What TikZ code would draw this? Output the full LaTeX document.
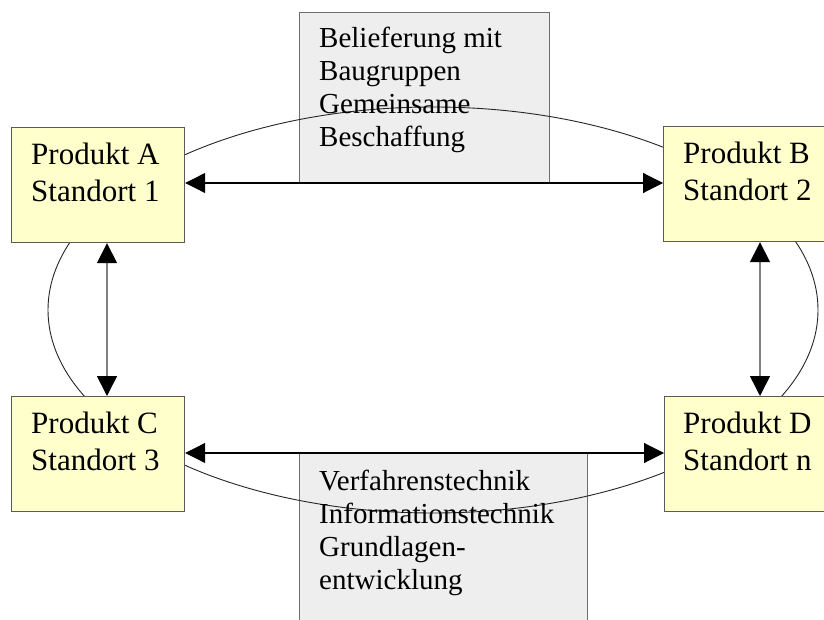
\documentclass[tikz,border=0pt]{standalone}
\usepackage{fontspec}
\setmainfont{Liberation Serif}
\usetikzlibrary{arrows.meta}
\definecolor{prodfill}{HTML}{FFFFCC}
\definecolor{boxline}{HTML}{5A5A5A}
\definecolor{notefill}{HTML}{EEEEEE}
\definecolor{noteline}{HTML}{6E6E6E}
\definecolor{vline}{HTML}{808080}
\begin{document}
\begin{tikzpicture}[x=1pt,y=-1pt,
  prod/.style={draw=boxline, line width=1.2pt, fill=prodfill, minimum width=173pt, minimum height=115pt, inner sep=0pt, anchor=north west},
  note/.style={draw=noteline, line width=1.2pt, fill=notefill, inner sep=0pt, anchor=north west},
  ptext/.style={anchor=base west, inner sep=0pt, font=\fontsize{31}{37}\selectfont},
  ntext/.style={anchor=base west, inner sep=0pt, font=\fontsize{29}{33}\selectfont},
  ring/.style={draw=black!85, line width=0.9pt},
  harrow/.style={draw=black, line width=1.1pt, {Triangle[length=20pt,width=20pt,color=black]}-{Triangle[length=20pt,width=20pt,color=black]}},
  varrow/.style={draw=vline, line width=1.6pt, {Triangle[length=20pt,width=20pt,color=black]}-{Triangle[length=20pt,width=20pt,color=black]}}
]
\useasboundingbox (0,0) rectangle (824,620);
\clip (0,0) rectangle (824,620);
\fill[white] (0,0) rectangle (824,620);

% grey note boxes
\node[note, minimum width=250pt, minimum height=171pt] (T) at (299,12) {};
\node[note, minimum width=288pt, minimum height=190pt] (U) at (299,453) {};

% ring behind the product boxes
\draw[ring] (433,310) ellipse [x radius=385pt, y radius=203pt];

% product boxes
\node[prod] (A) at (11,127) {};
\node[prod] (B) at (663,126) {};
\node[prod] (C) at (11,396) {};
\node[prod] (D) at (664,396) {};

% helper coordinates for arrow positions
\coordinate (ab) at (0,183);
\coordinate (cd) at (0,453);
\coordinate (ac) at (107,0);
\coordinate (bd) at (760,0);

\draw[harrow] (A.east |- ab) -- (B.west |- ab);
\draw[harrow] (C.east |- cd) -- (D.west |- cd);
\draw[varrow] (A.south -| ac) -- (C.north -| ac);
\draw[varrow] (B.south -| bd) -- (D.north -| bd);

% texts
\node[ptext] (ta) at (31,165) {\begin{tabular}[t]{@{}l@{}}Produkt A\\Standort 1\end{tabular}};
\node[ptext] (tb) at (683,164) {\begin{tabular}[t]{@{}l@{}}Produkt B\\Standort 2\end{tabular}};
\node[ptext] (tc) at (31,433) {\begin{tabular}[t]{@{}l@{}}Produkt C\\Standort 3\end{tabular}};
\node[ptext] (td) at (683,433) {\begin{tabular}[t]{@{}l@{}}Produkt D\\Standort n\end{tabular}};
\node[ntext] (tt) at (319,48) {\begin{tabular}[t]{@{}l@{}}Belieferung mit\\Baugruppen\\Gemeinsame\\Beschaffung\end{tabular}};
\node[ntext] (tu) at (319,490) {\begin{tabular}[t]{@{}l@{}}Verfahrenstechnik\\Informationstechnik\\Grundlagen-\\entwicklung\end{tabular}};
\end{tikzpicture}
\end{document}
